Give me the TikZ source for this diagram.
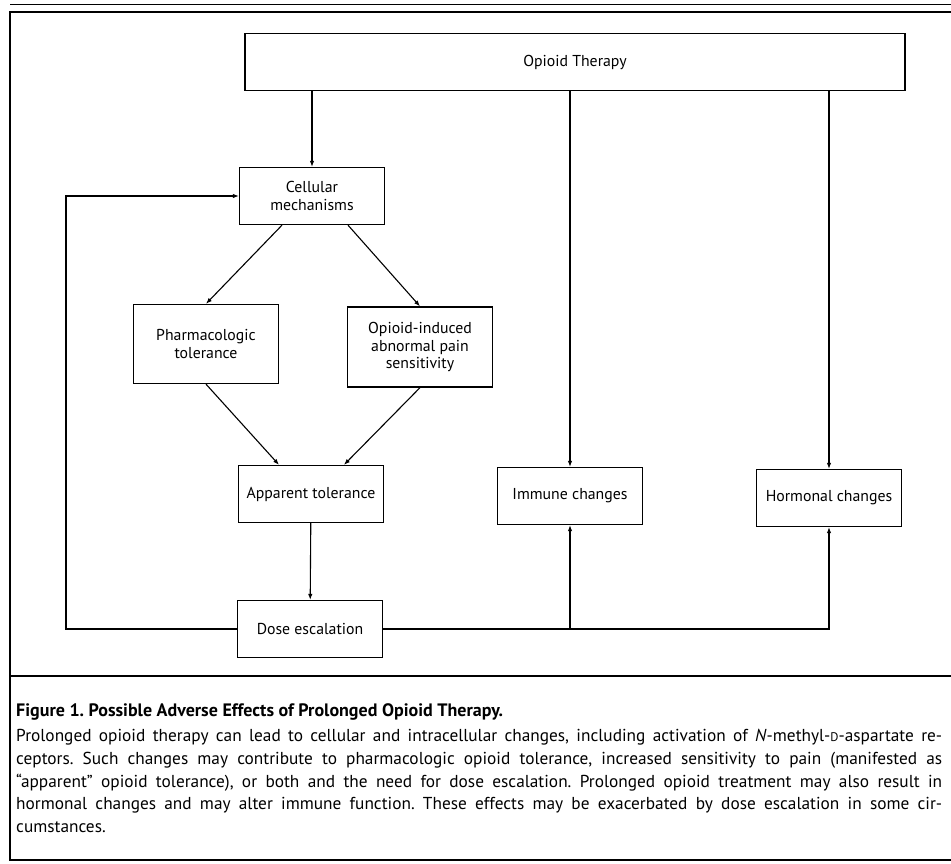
\documentclass[tikz,border=0pt]{standalone}
\usepackage{fontspec}
\setmainfont{PT Sans}
\usetikzlibrary{arrows.meta}

\newcommand{\capline}[1]{\makebox[926pt][s]{#1}}

\begin{document}
\frenchspacing
\begin{tikzpicture}[x=1pt, y=-1pt, font=\fontsize{15.8}{17.5}\selectfont,
    box/.style={draw, line width=1.3pt, align=center, minimum width=145pt, minimum height=57pt, inner sep=2pt},
    arr/.style={-{Latex[length=6pt,width=4.5pt]}, line width=1.1pt}]
    \useasboundingbox (0,0) rectangle (951,863);

    % frame
    \draw[line width=1pt] (10,4) -- (951,4);
    \draw[line width=1.5pt] (951,12) -- (10,12) -- (10,860) -- (951,860);
    \draw[line width=1.5pt] (10,676) -- (951,676);

    \node[box, minimum width=660pt] (n0) at (575,62) {Opioid Therapy};
    \node[box] (n1) at (312,196) {Cellular\\mechanisms};
    \node[box, minimum height=79pt] (n2) at (206,344) {Pharmacologic\\tolerance};
    \node[box, minimum height=80pt] (n3) at (420,347) {Opioid-induced\\abnormal pain\\sensitivity};
    \node[box] (n4) at (311,494) {Apparent tolerance};
    \node[box] (n5) at (570,496) {Immune changes};
    \node[box] (n6) at (829,498) {Hormonal changes};
    \node[box] (n7) at (310,629) {Dose escalation};
    \coordinate (fb) at (66,629);

    \draw[arr] (n0.south -| n1) -- (n1);
    \draw[arr] (n0.south -| n5) -- (n5);
    \draw[arr] (n0.south -| n6) -- (n6);
    \draw[arr] ([xshift=-30pt]n1.south) -- (n2.north);
    \draw[arr] ([xshift=36pt]n1.south) -- (n3.north);
    \draw[arr] (n2.south) -- ([xshift=-32pt]n4.north);
    \draw[arr] (n3.south) -- ([xshift=33pt]n4.north);
    \draw[arr] (n4) -- (n7);
    \draw[arr] (n7.west) -- (fb) |- (n1.west);
    \draw[arr] (n7.east) -| (n6);
    \draw[arr] (n7.east -| n5) -- (n5);

    % caption
    \node[anchor=west, inner sep=0pt, font=\bfseries\fontsize{18}{20}\selectfont] (cap) at (16,712)
        {Figure 1. Possible Adverse Effects of Prolonged Opioid Therapy.};
    \node[anchor=north west, align=left, inner sep=0pt, font=\fontsize{17.3}{22.8}\selectfont] (txt) at (16,729) {%
        \capline{Prolonged opioid therapy can lead to cellular and intracellular changes, including activation of \textit{N}-methyl-{\fontsize{12.5}{12.5}\selectfont D}-aspartate re-}\\
        \capline{ceptors. Such changes may contribute to pharmacologic opioid tolerance, increased sensitivity to pain (manifested as}\\
        \capline{“apparent” opioid tolerance), or both and the need for dose escalation. Prolonged opioid treatment may also result in}\\
        \capline{hormonal changes and may alter immune function. These effects may be exacerbated by dose escalation in some cir-}\\
        cumstances.};
\end{tikzpicture}
\end{document}
